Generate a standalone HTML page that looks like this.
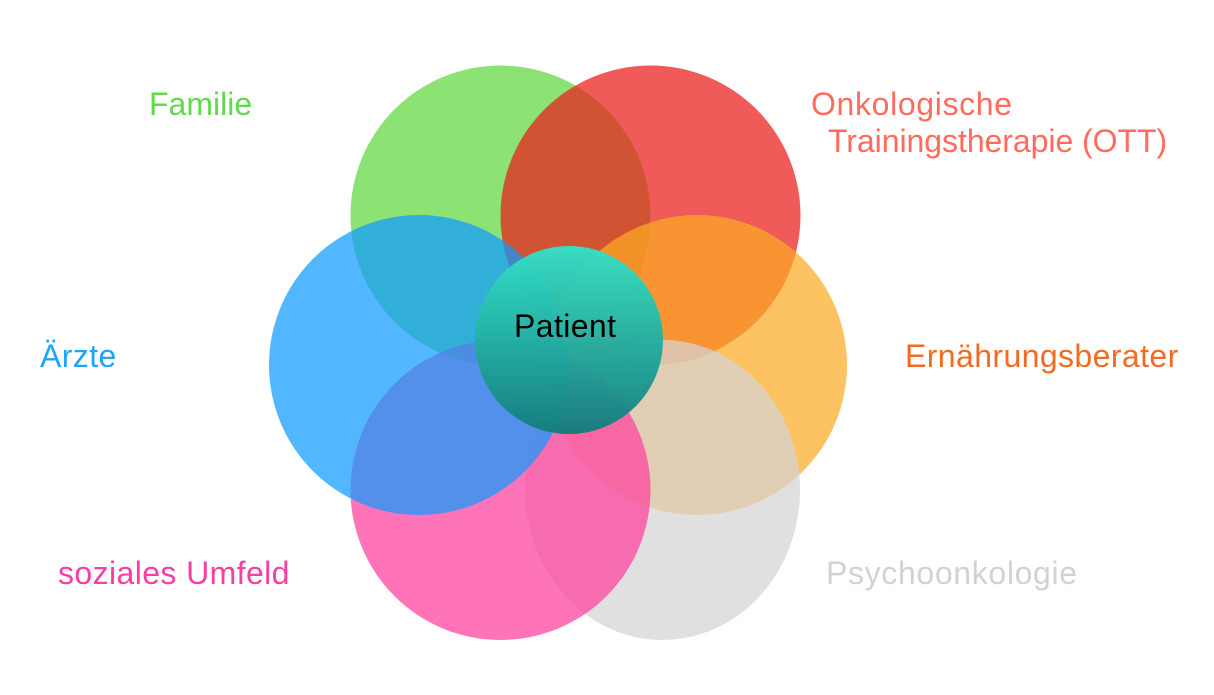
<!DOCTYPE html>
<html>
<head>
<meta charset="utf-8">
<style>
html,body{margin:0;padding:0;background:#fff;width:1214px;height:695px;overflow:hidden}
svg{display:block}
text{font-family:"Liberation Sans",sans-serif;font-size:32px}
</style>
</head>
<body>
<svg width="1214" height="695" viewBox="0 0 1214 695" xmlns="http://www.w3.org/2000/svg">
<defs>
<linearGradient id="g" x1="0" y1="0" x2="0" y2="1">
<stop offset="0" stop-color="#33e2c8"/>
<stop offset="1" stop-color="#127c7c"/>
</linearGradient>
</defs>
<rect width="1214" height="695" fill="#fff"/>
<circle cx="500.5" cy="215.5" r="150" fill="rgb(97,215,62)" fill-opacity=".72"/>
<circle cx="650.5" cy="215.5" r="150" fill="rgb(234,28,26)" fill-opacity=".72"/>
<circle cx="697" cy="365" r="150" fill="rgb(252,170,36)" fill-opacity=".72"/>
<ellipse cx="662.5" cy="490" rx="137.5" ry="150" fill="rgb(212,212,212)" fill-opacity=".72"/>
<circle cx="500.5" cy="490" r="150" fill="rgb(255,63,156)" fill-opacity=".72"/>
<circle cx="419" cy="365" r="150" fill="rgb(15,155,255)" fill-opacity=".72"/>
<circle cx="569" cy="340" r="94" fill="url(#g)" fill-opacity=".96"/>
<text x="514" y="337" fill="#000" letter-spacing=".4">Patient</text>
<text x="149" y="115" fill="#62d94c">Familie</text>
<text x="811" y="115" fill="#ff6b5c" letter-spacing=".65">Onkologische</text>
<text x="828" y="152" fill="#ff6b5c" letter-spacing="-.05">Trainingstherapie (OTT)</text>
<text x="40" y="367" fill="#1fa5f7" letter-spacing=".4">Ärzte</text>
<text x="905" y="367" fill="#f06c22" letter-spacing=".4">Ernährungsberater</text>
<text x="58" y="584" fill="#f53fa3" letter-spacing=".4">soziales Umfeld</text>
<text x="826" y="584" fill="#d2d2d2" letter-spacing=".65">Psychoonkologie</text>
</svg>
</body>
</html>
